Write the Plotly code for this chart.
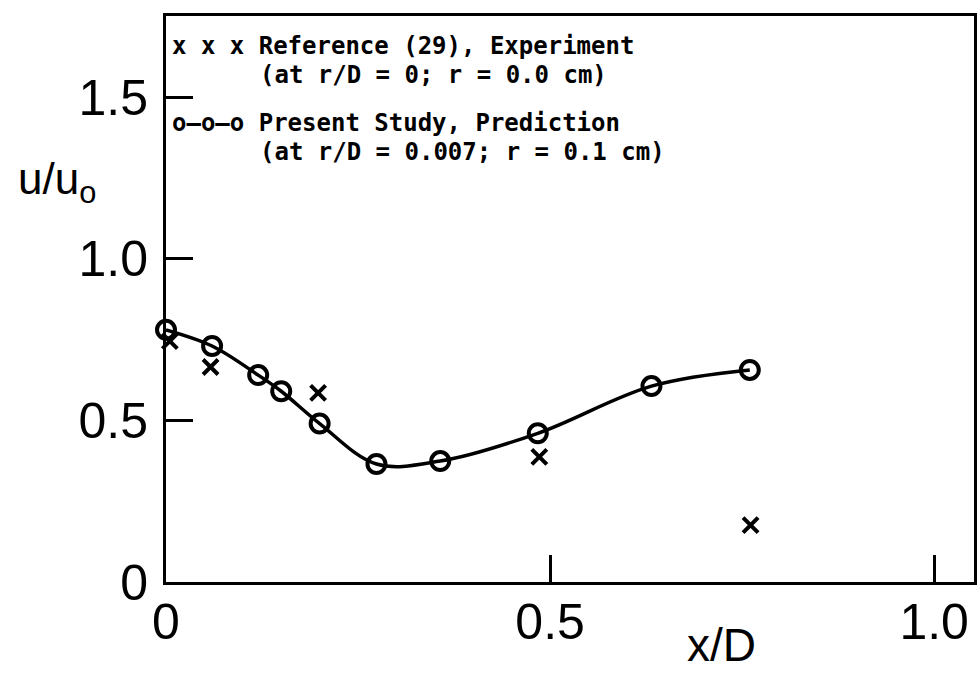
import plotly.graph_objects as go

# ---- data ----
x_pred = [0.0, 0.06, 0.12, 0.15, 0.20, 0.274, 0.357, 0.484, 0.632, 0.76]
u_pred = [0.78, 0.73, 0.64, 0.59, 0.49, 0.365, 0.374, 0.46, 0.606, 0.656]

x_exp = [0.005, 0.058, 0.198, 0.486, 0.761]
u_exp = [0.745, 0.665, 0.585, 0.387, 0.176]

x_ticks = [0, 0.5, 1.0]
x_tick_text = ["0", "0.5", "1.0"]
y_ticks = [0, 0.5, 1.0, 1.5]
y_tick_text = ["0", "0.5", "1.0", "1.5"]

legend_lines = [
    "x x x Reference (29), Experiment",
    "(at r/D = 0; r = 0.0 cm)",
    "o\u2013o\u2013o Present Study, Prediction",
    "(at r/D = 0.007; r = 0.1 cm)",
]

W, H = 980, 673
L, R, T, B = 166, 977, 16, 582  # plot area in pixels

def px(xp):
    return (xp - L) / (R - L)

def py(yp):
    return (B - yp) / (B - T)

fig = go.Figure()

fig.add_trace(go.Scatter(
    x=x_pred, y=u_pred, mode="lines+markers",
    line=dict(color="black", width=3.5, shape="spline", smoothing=1.0),
    marker=dict(symbol="circle-open", size=18, color="black", line=dict(width=4)),
    showlegend=False, cliponaxis=False,
))
fig.add_trace(go.Scatter(
    x=x_exp, y=u_exp, mode="markers",
    marker=dict(symbol="x-thin-open", size=15, color="black", line=dict(width=4)),
    showlegend=False, cliponaxis=False,
))

tick_font = dict(family="Liberation Sans", size=50, color="black")
fig.update_xaxes(
    range=[0, (R - L) / 771.0], tickvals=x_ticks, ticktext=x_tick_text,
    ticks="inside", ticklen=27, tickwidth=3, tickcolor="black",
    showline=True, linewidth=3, linecolor="black", mirror=True,
    showgrid=False, zeroline=False, tickfont=tick_font, ticklabelstandoff=-6,
)
fig.update_yaxes(
    range=[0, (B - T) / 323.3], tickvals=y_ticks, ticktext=y_tick_text,
    ticks="inside", ticklen=27, tickwidth=3, tickcolor="black",
    showline=True, linewidth=3, linecolor="black", mirror=True,
    showgrid=False, zeroline=False, tickfont=tick_font, ticklabelstandoff=5,
)

mono = dict(family="DejaVu Sans Mono", size=24, color="black", weight="bold")
leg_pos = [(170, 46), (258, 75), (170, 123), (258, 152)]
for text, (xp, yp) in zip(legend_lines, leg_pos):
    fig.add_annotation(text=text, xref="paper", yref="paper", x=px(xp), y=py(yp),
                       xanchor="left", yanchor="middle", showarrow=False, font=mono)

fig.add_annotation(text="u/u<sub>o</sub>", xref="paper", yref="paper",
                   x=px(57), y=py(182), xanchor="center", yanchor="middle",
                   showarrow=False, font=dict(family="Liberation Sans", size=44, color="black"))
fig.add_annotation(text="x/D", xref="paper", yref="paper",
                   x=px(724), y=py(645), xanchor="center", yanchor="middle",
                   showarrow=False, font=dict(family="Liberation Sans", size=46, color="black"))

fig.update_layout(
    width=W, height=H,
    margin=dict(l=L, r=W - R, t=T, b=H - B, pad=0),
    plot_bgcolor="white", paper_bgcolor="white",
)

fig.write_html("out.html", config={"displayModeBar": False},
               post_script="document.body.style.margin='0px';document.body.style.padding='0px';")
